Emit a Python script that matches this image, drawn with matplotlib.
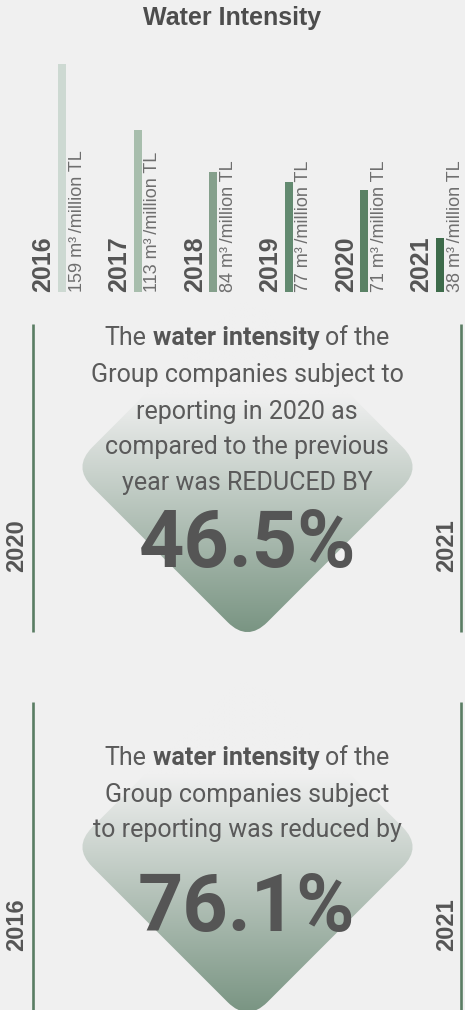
import numpy as np
import matplotlib.pyplot as plt
from matplotlib.path import Path
from matplotlib.patches import PathPatch
from matplotlib.colors import to_rgb

# Water intensity per year, m3 per million TL
years = ["2016", "2017", "2018", "2019", "2020", "2021"]
intensity = [159, 113, 84, 77, 71, 38]
bar_colors = ["#cdd9d2", "#a8bead", "#85a08c", "#638a70", "#5a8265", "#3d6b4a"]
unit = "m³\u2009/million TL"

# Comparisons shown in the two callouts (start year, end year)
compare_1 = ("2020", "2021")
compare_2 = ("2016", "2021")

bg = "#f0f0f0"
dark = "#555555"
green_line = "#5a7d63"
green_grad = "#7a9583"

fig = plt.figure(figsize=(4.65, 10.10), dpi=100, facecolor=bg)
W, H = 465, 1010

# ---- bar chart ----
bar_bottom, bar_height = 292, 228
ax = fig.add_axes([0, 1 - bar_bottom / H, 1, bar_height / H])
ax.set_facecolor("none")
step = 75.6
ax.set_xlim(-62 / step, (W - 62) / step)
ax.set_ylim(0, max(intensity))
ax.axis("off")
x = np.arange(len(years))
ax.bar(x, intensity, width=8 / step, color=bar_colors, align="center")
for i, (yr, v) in enumerate(zip(years, intensity)):
    ax.text(i - 18.5 / step, 0, yr, rotation=90, ha="center", va="bottom",
            fontsize=18, fontweight="bold", family="Liberation Sans",
            color=dark, clip_on=False)
    ax.text(i + 15 / step, 0, f"{v} {unit}", rotation=90, ha="center",
            va="bottom", fontsize=13, family="Liberation Sans",
            color="#6e6e6e", clip_on=False)

fig.text(0.5, 1 - 18 / H, "Water Intensity", ha="center", va="center",
         fontsize=18, fontweight="bold", family="Liberation Sans", color="#4d4d4d")

# ---- callouts, drawn in pixel coordinates ----
ov = fig.add_axes([0, 0, 1, 1])
ov.set_xlim(0, W)
ov.set_ylim(H, 0)
ov.axis("off")
ov.set_facecolor("none")

renderer = fig.canvas.get_renderer()
body = "#5a5a5a"


def text_width(s, weight):
    t = ov.text(0, 0, s, fontsize=18, fontweight=weight, family="Roboto")
    w = t.get_window_extent(renderer).width
    t.remove()
    return w


space_w = text_width("x x", "normal") - text_width("xx", "normal")


def rich_line(cx, cy, parts):
    # parts: list of (text, weight), joined by single spaces and centred on cx
    widths = [text_width(s, w) for s, w in parts]
    total = sum(widths) + space_w * (len(parts) - 1)
    x0 = cx - total / 2
    for (s, w), wd in zip(parts, widths):
        ov.text(x0, cy, s, fontsize=18, fontweight=w, family="Roboto",
                color=dark if w == "bold" else body, ha="left", va="center",
                zorder=3)
        x0 += wd + space_w


def rounded_diamond(cx, cy, h, r):
    pts = [(cx, cy - h), (cx + h, cy), (cx, cy + h), (cx - h, cy)]
    verts, codes = [], []
    n = len(pts)
    for k in range(n):
        p = np.array(pts[k])
        prev = np.array(pts[k - 1])
        nxt = np.array(pts[(k + 1) % n])
        a = p + (prev - p) / np.linalg.norm(prev - p) * r
        b = p + (nxt - p) / np.linalg.norm(nxt - p) * r
        verts.append(a)
        codes.append(Path.MOVETO if k == 0 else Path.LINETO)
        verts += [p, b]
        codes += [Path.CURVE3, Path.CURVE3]
    verts.append(verts[0])
    codes.append(Path.CLOSEPOLY)
    return Path(verts, codes)


def gradient_diamond(cx, cy, h, fade_top):
    path = rounded_diamond(cx, cy, h, 28)
    patch = PathPatch(path, facecolor="none", edgecolor="none")
    ov.add_patch(patch)
    ys = np.linspace(cy - h, cy + h, 300)
    t = np.clip((ys - fade_top) / (cy + h - 10 - fade_top), 0, 1)
    c0, c1 = np.array(to_rgb(bg)), np.array(to_rgb(green_grad))
    img = c0[None, :] + t[:, None] * (c1 - c0)[None, :]
    img = np.repeat(img[:, None, :], 2, axis=1)
    im = ov.imshow(img, extent=(cx - h, cx + h, cy + h, cy - h),
                   aspect="auto", interpolation="bilinear", zorder=1)
    im.set_clip_path(patch)


def side_frame(y0, y1, left_label, right_label, label_y):
    ov.plot([33, 33], [y0, y1], color=green_line, lw=1.9, solid_capstyle="butt")
    ov.plot([461, 461], [y0, y1], color=green_line, lw=1.9, solid_capstyle="butt")
    for xx, lab in ((17, left_label), (447, right_label)):
        ov.text(xx, label_y, lab, rotation=90, ha="center", va="center",
                fontsize=17, fontweight="bold", family="Liberation Sans", color=dark)


def reduction(start, end):
    a = intensity[years.index(start)]
    b = intensity[years.index(end)]
    return (a - b) / a * 100


# first callout: previous year comparison
side_frame(324, 632, compare_1[0], compare_1[1], 546)
gradient_diamond(247.5, 467, 175, 395)
rich_line(247, 338, [("The", "normal"), ("water intensity", "bold"), ("of the", "normal")])
rich_line(247, 375, [("Group companies subject to", "normal")])
rich_line(247, 412, [("reporting in 2020 as", "normal")])
rich_line(247, 447, [("compared to the previous", "normal")])
rich_line(247, 483, [("year was REDUCED BY", "normal")])
ov.text(247.5, 545, f"{reduction(*compare_1):.1f}%", ha="center", va="center",
        fontsize=57, fontweight="bold", family="Roboto", color=dark, zorder=3)

# second callout: whole period
side_frame(702, H, compare_2[0], compare_2[1], 925)
gradient_diamond(247.5, 847, 175, 775)
rich_line(247, 758, [("The", "normal"), ("water intensity", "bold"), ("of the", "normal")])
rich_line(247, 795, [("Group companies subject", "normal")])
rich_line(247, 830, [("to reporting was reduced by", "normal")])
ov.text(246, 909, f"{reduction(*compare_2):.1f}%", ha="center", va="center",
        fontsize=57, fontweight="bold", family="Roboto", color=dark, zorder=3)

fig.savefig("out.png", dpi=100, facecolor=bg)
